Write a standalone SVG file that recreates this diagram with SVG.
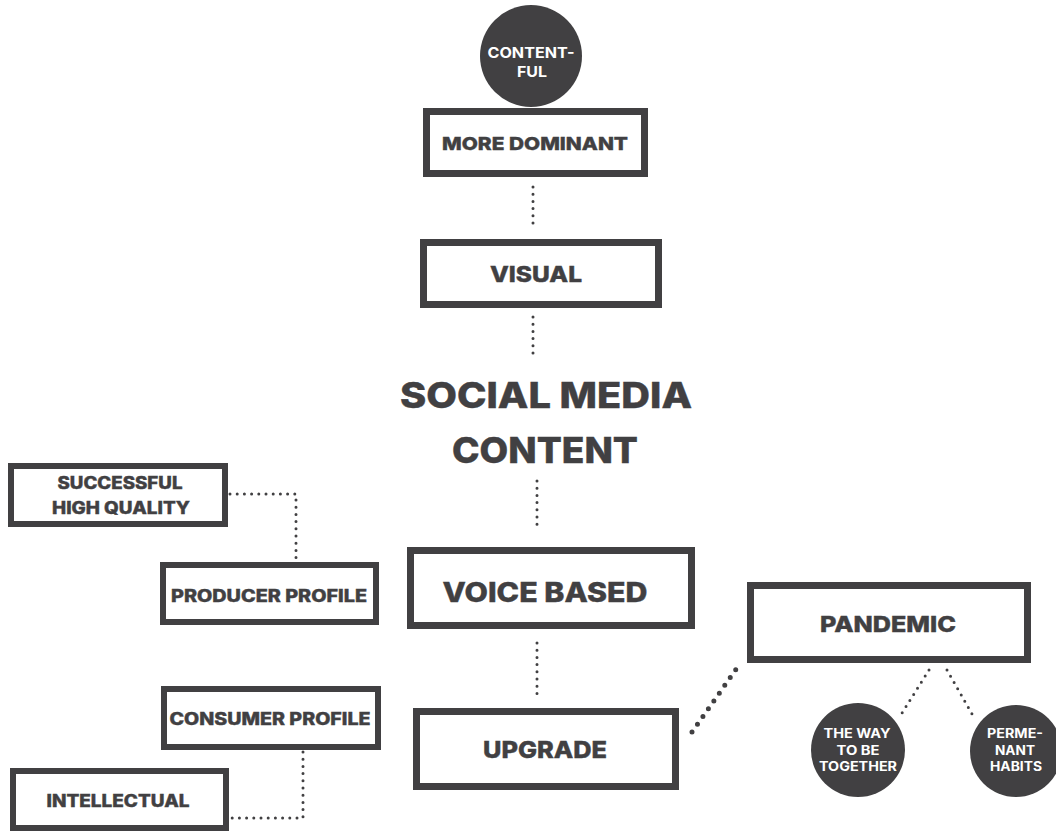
<svg xmlns="http://www.w3.org/2000/svg" width="1056" height="832" viewBox="0 0 1056 832">
<style>
.box{fill:#fff;stroke:#414042;stroke-width:7}
.box6{fill:#fff;stroke:#414042;stroke-width:6}
.t{font-family:Inter,"Open Sans","Liberation Sans",sans-serif;font-weight:800;fill:#414042;text-anchor:middle;stroke:#414042;stroke-width:0.4}
.w{font-family:Inter,"Open Sans","Liberation Sans",sans-serif;font-weight:700;fill:#fff;text-anchor:middle}
.dot{fill:#414042}
.d{fill:none;stroke:#414042;stroke-width:3;stroke-linecap:round;stroke-dasharray:0 7.2}
.dl{fill:none;stroke:#414042;stroke-width:5;stroke-linecap:round;stroke-dasharray:0 9.5}
</style>
<rect width="1056" height="832" fill="#fff"/>
<g id="connectors">
<line class="d" x1="533" y1="187" x2="533" y2="230"/>
<line class="d" x1="533" y1="317" x2="533" y2="360"/>
<line class="d" x1="537" y1="481" x2="537" y2="531"/>
<line class="d" x1="537" y1="643" x2="537" y2="694"/>
<polyline class="d" points="230,494 296,494 296,565"/>
<polyline class="d" points="303,752 303,818 232,818"/>
<line class="dl" x1="692" y1="732" x2="737" y2="668"/>
<line class="d" x1="929" y1="670" x2="902" y2="713"/>
<line class="d" x1="947" y1="670" x2="972" y2="714"/>
</g>
<g id="contentful">
<circle class="dot" cx="531" cy="56" r="51"/>
<text class="w" x="531" y="58" font-size="15" textLength="87" lengthAdjust="spacingAndGlyphs">CONTENT-</text>
<text class="w" x="532" y="77" font-size="15" textLength="30" lengthAdjust="spacingAndGlyphs">FUL</text>
</g>
<g id="more-dominant">
<rect class="box" x="426.5" y="111.5" width="218" height="62"/>
<text class="t" x="535" y="150" font-size="18" textLength="186" lengthAdjust="spacingAndGlyphs">MORE DOMINANT</text>
</g>
<g id="visual">
<rect class="box" x="423.5" y="242.5" width="235" height="62"/>
<text class="t" x="536" y="282" font-size="22" textLength="92" lengthAdjust="spacingAndGlyphs">VISUAL</text>
</g>
<g id="social-media-content">
<text class="t" x="546" y="408" font-size="35" textLength="292" lengthAdjust="spacingAndGlyphs">SOCIAL MEDIA</text>
<text class="t" x="545" y="463" font-size="35" textLength="186" lengthAdjust="spacingAndGlyphs">CONTENT</text>
</g>
<g id="voice-based">
<rect class="box" x="410.5" y="550.5" width="281" height="75"/>
<text class="t" x="545" y="602" font-size="27" textLength="205" lengthAdjust="spacingAndGlyphs">VOICE BASED</text>
</g>
<g id="upgrade">
<rect class="box" x="416.5" y="711.5" width="259" height="75"/>
<text class="t" x="545" y="758" font-size="23" textLength="124" lengthAdjust="spacingAndGlyphs">UPGRADE</text>
</g>
<g id="successful-high-quality">
<rect class="box6" x="11" y="466" width="214" height="58"/>
<text class="t" x="120" y="489" font-size="17" textLength="125" lengthAdjust="spacingAndGlyphs">SUCCESSFUL</text>
<text class="t" x="121" y="514" font-size="17" textLength="138" lengthAdjust="spacingAndGlyphs">HIGH QUALITY</text>
</g>
<g id="producer-profile">
<rect class="box6" x="163" y="565" width="213" height="57"/>
<text class="t" x="269" y="602" font-size="17" textLength="196" lengthAdjust="spacingAndGlyphs">PRODUCER PROFILE</text>
</g>
<g id="consumer-profile">
<rect class="box6" x="164" y="689" width="214" height="58"/>
<text class="t" x="270" y="725" font-size="17" textLength="201" lengthAdjust="spacingAndGlyphs">CONSUMER PROFILE</text>
</g>
<g id="intellectual">
<rect class="box6" x="13" y="771" width="213" height="57"/>
<text class="t" x="118" y="807" font-size="17" textLength="143" lengthAdjust="spacingAndGlyphs">INTELLECTUAL</text>
</g>
<g id="pandemic">
<rect class="box" x="750.5" y="585.5" width="277" height="74"/>
<text class="t" x="888" y="632" font-size="22" textLength="136" lengthAdjust="spacingAndGlyphs">PANDEMIC</text>
</g>
<g id="the-way-to-be-together">
<circle class="dot" cx="858" cy="750" r="47"/>
<text class="w" x="857" y="738" font-size="13" textLength="67" lengthAdjust="spacingAndGlyphs">THE WAY</text>
<text class="w" x="858" y="755" font-size="13" textLength="43" lengthAdjust="spacingAndGlyphs">TO BE</text>
<text class="w" x="858" y="771" font-size="13" textLength="78" lengthAdjust="spacingAndGlyphs">TOGETHER</text>
</g>
<g id="permanent-habits">
<circle class="dot" cx="1016" cy="751" r="46"/>
<text class="w" x="1015" y="738" font-size="13" textLength="56" lengthAdjust="spacingAndGlyphs">PERME-</text>
<text class="w" x="1015" y="755" font-size="13" textLength="40" lengthAdjust="spacingAndGlyphs">NANT</text>
<text class="w" x="1016" y="771" font-size="13" textLength="52" lengthAdjust="spacingAndGlyphs">HABITS</text>
</g>
</svg>
